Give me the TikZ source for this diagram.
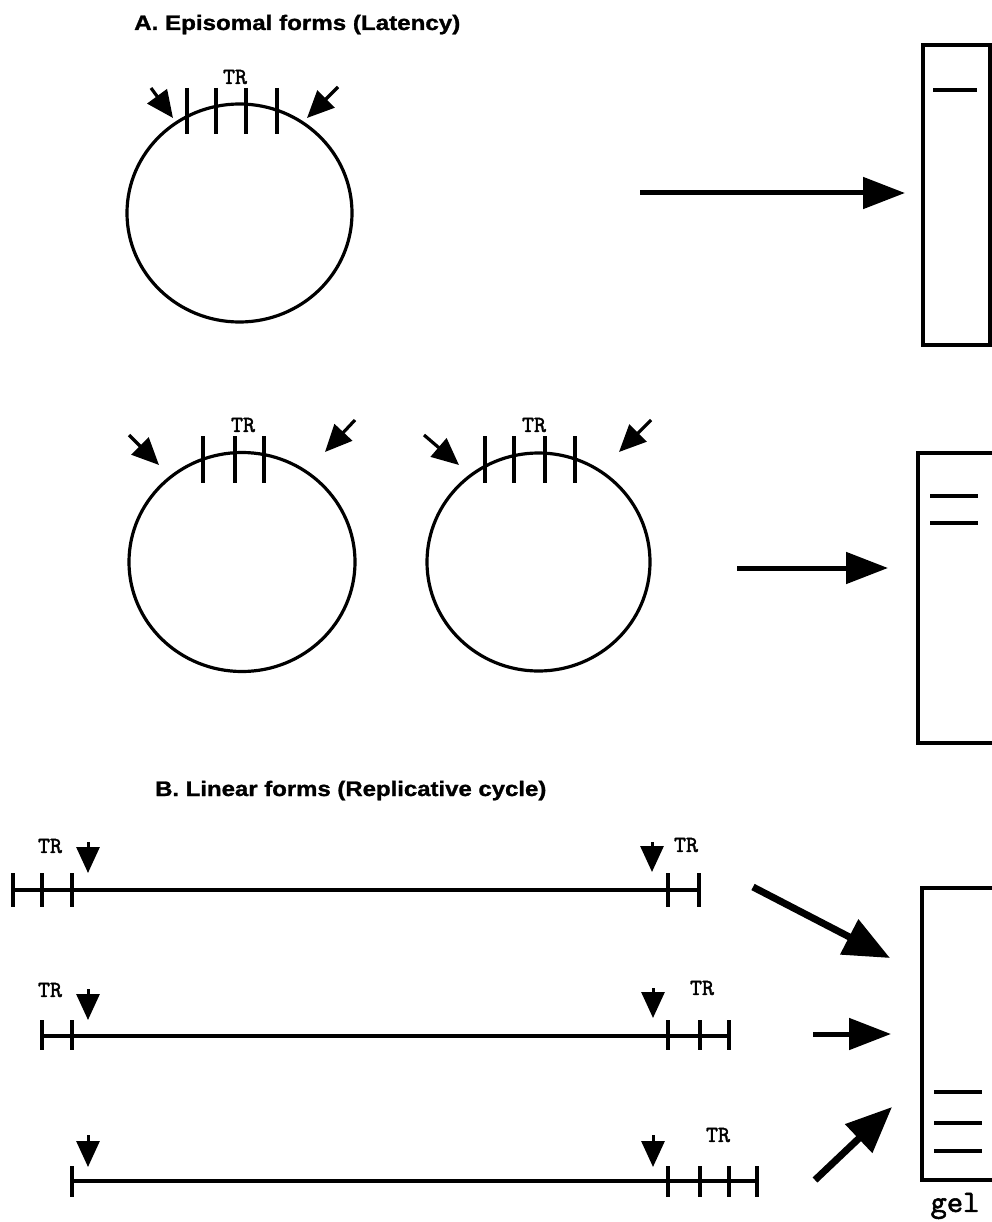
\documentclass[tikz,border=0pt]{standalone}
\usepackage{fontspec}
\usepackage{graphicx}
\usetikzlibrary{arrows.meta}
\newfontfamily\headfont{Liberation Sans}[BoldFeatures={FakeBold=1.2}]
\newfontfamily\trfont{lmmono10-regular.otf}[FakeBold=1.8]

\begin{document}
\begin{tikzpicture}[x=1pt,y=-1pt,
  dna/.style={line width=3.2pt},
  tick/.style={line width=3.2pt},
  cut/.style={line width=3.2pt,-{Triangle[length=27pt,width=24pt]}},
  downcut/.style={line width=3pt,-{Triangle[length=26pt,width=23pt]}},
  big/.style={line width=5pt,-{Triangle[length=42pt,width=31pt]}},
  bigdiag/.style={line width=7pt,-{Triangle[length=46pt,width=38pt]}},
  gelbox/.style={line width=3.8pt},
  band/.style={line width=3.5pt},
  heading/.style={font=\headfont\bfseries\fontsize{21}{24}\selectfont, anchor=base west, inner sep=0pt},
  trlab/.style={font=\trfont\fontsize{23}{24}\selectfont, inner sep=0pt},
  gellab/.style={font=\trfont\fontsize{31}{33}\selectfont, inner sep=0pt}
]
\useasboundingbox (0,0) rectangle (992,1222);

% ---------- headings ----------
\node[heading] (headA) at (134,30) {\scalebox{1.15}[1]{A. Episomal forms (Latency)}};
\node[heading] (headB) at (155,796) {\scalebox{1.14}[1]{B. Linear forms (Replicative cycle)}};

% ---------- episome with four terminal repeats ----------
\draw[dna] (239.5,213) ellipse [x radius=112.5pt, y radius=109pt];
\foreach \x in {187,216,246,277} \draw[tick] (\x,88) -- (\x,134);
\node[trlab] (tr1) at (235,77) {TR};
\coordinate (c1a) at (151,88);  \coordinate (c1b) at (173,118);
\coordinate (c1c) at (338,87);  \coordinate (c1d) at (307,118);
\draw[cut] (c1a) -- (c1b);
\draw[cut] (c1c) -- (c1d);

% ---------- two episomes with three and four repeats ----------
\draw[dna] (242,562) ellipse [x radius=113pt, y radius=109.5pt];
\foreach \x in {203,235,264} \draw[tick] (\x,436) -- (\x,483);
\node[trlab] (tr2) at (243,425) {TR};
\coordinate (c2a) at (129,435); \coordinate (c2b) at (159,465);
\coordinate (c2c) at (355,420); \coordinate (c2d) at (325,452);
\draw[cut] (c2a) -- (c2b);
\draw[cut] (c2c) -- (c2d);

\draw[dna] (538.5,562) ellipse [x radius=111.5pt, y radius=109pt];
\foreach \x in {485,514,545,575} \draw[tick] (\x,436) -- (\x,483);
\node[trlab] (tr3) at (534,425) {TR};
\coordinate (c3a) at (424,435); \coordinate (c3b) at (459,465);
\coordinate (c3c) at (651,420); \coordinate (c3d) at (619,452);
\draw[cut] (c3a) -- (c3b);
\draw[cut] (c3c) -- (c3d);

% ---------- linear genomes ----------
% row 1
\draw[dna] (13,890) -- (699,890);
\foreach \x in {13,42,72,668,699} \draw[tick] (\x,873) -- (\x,907);
\node[trlab] (tr4) at (50,846) {TR};
\node[trlab] (tr5) at (686,845) {TR};
\coordinate (l1a) at (88,842);  \coordinate (l1b) at (88,873);
\coordinate (l1c) at (652,842); \coordinate (l1d) at (652,872);
\draw[downcut] (l1a) -- (l1b);
\draw[downcut] (l1c) -- (l1d);

% row 2
\draw[dna] (42,1036) -- (729,1036);
\foreach \x in {42,72,668,700,729} \draw[tick] (\x,1020) -- (\x,1050);
\node[trlab] (tr6) at (50,990) {TR};
\node[trlab] (tr7) at (702,988) {TR};
\coordinate (l2a) at (88,989);  \coordinate (l2b) at (88,1020);
\coordinate (l2c) at (653,988); \coordinate (l2d) at (653,1018);
\draw[downcut] (l2a) -- (l2b);
\draw[downcut] (l2c) -- (l2d);

% row 3
\draw[dna] (72,1181) -- (757,1181);
\foreach \x in {72,668,700,729,757} \draw[tick] (\x,1166) -- (\x,1197);
\node[trlab] (tr8) at (718,1135) {TR};
\coordinate (l3a) at (88,1135);  \coordinate (l3b) at (88,1167);
\coordinate (l3c) at (653,1135); \coordinate (l3d) at (653,1167);
\draw[downcut] (l3a) -- (l3b);
\draw[downcut] (l3c) -- (l3d);

% ---------- gels ----------
\draw[gelbox] (923,45) rectangle (990,345);
\draw[band] (933,90) -- (977,90);

\draw[gelbox] (994,453) -- (918,453) -- (918,743) -- (994,743);
\draw[band] (930,496) -- (978,496);
\draw[band] (930,523) -- (978,523);

\draw[gelbox] (994,888) -- (922,888) -- (922,1180) -- (994,1180);
\draw[band] (934,1092) -- (982,1092);
\draw[band] (934,1123) -- (982,1123);
\draw[band] (934,1151) -- (982,1151);
\node[gellab] (gel) at (955,1206) {gel};

% ---------- arrows into the gels ----------
\coordinate (a1s) at (640,193); \coordinate (a1e) at (905,193);
\coordinate (a2s) at (737,568); \coordinate (a2e) at (888,568);
\coordinate (b1s) at (753,887); \coordinate (b1e) at (890,958);
\coordinate (b2s) at (813,1034); \coordinate (b2e) at (891,1034);
\coordinate (b3s) at (815,1180); \coordinate (b3e) at (892,1107);
\draw[big] (a1s) -- (a1e);
\draw[big] (a2s) -- (a2e);
\draw[bigdiag] (b1s) -- (b1e);
\draw[big] (b2s) -- (b2e);
\draw[bigdiag] (b3s) -- (b3e);
\end{tikzpicture}
\end{document}
